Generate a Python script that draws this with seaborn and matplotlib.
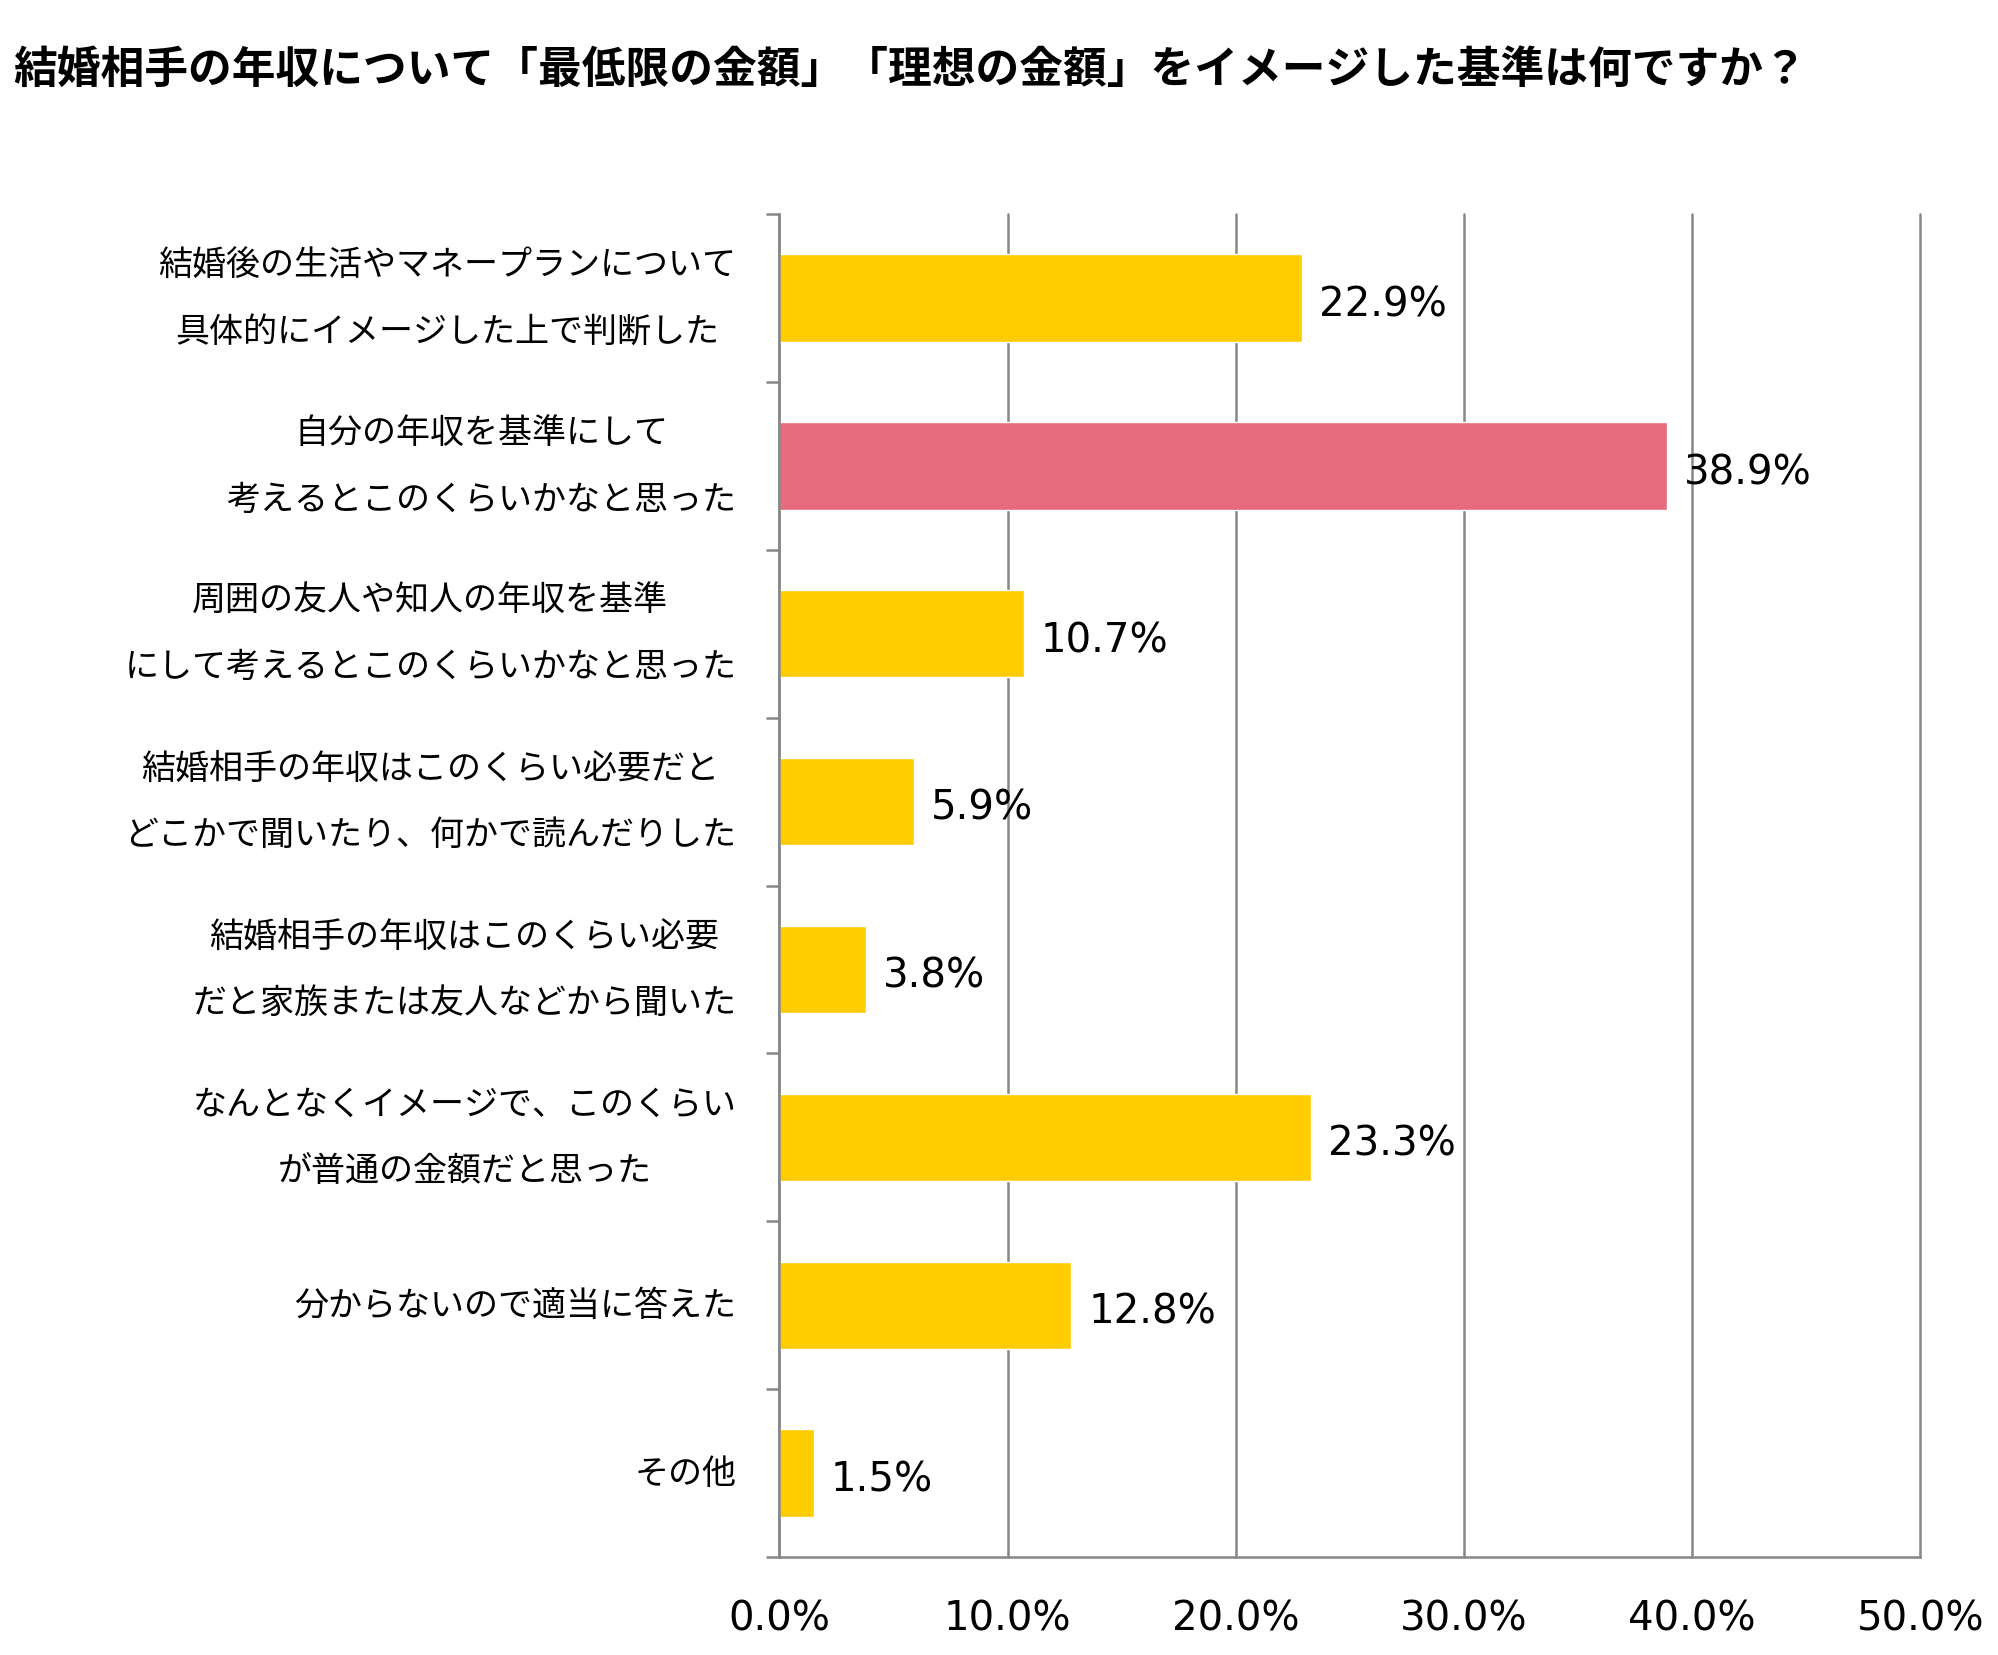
import matplotlib
matplotlib.use("Agg")
import matplotlib.pyplot as plt
import seaborn as sns
import numpy as np
import pandas as pd
from matplotlib.ticker import FixedLocator, PercentFormatter

categories = [
    "結婚後の生活やマネープランについて\n具体的にイメージした上で判断した",
    "自分の年収を基準にして\n考えるとこのくらいかなと思った",
    "周囲の友人や知人の年収を基準\nにして考えるとこのくらいかなと思った",
    "結婚相手の年収はこのくらい必要だと\nどこかで聞いたり、何かで読んだりした",
    "結婚相手の年収はこのくらい必要\nだと家族または友人などから聞いた",
    "なんとなくイメージで、このくらい\nが普通の金額だと思った",
    "分からないので適当に答えた",
    "その他",
]
values = [22.9, 38.9, 10.7, 5.9, 3.8, 23.3, 12.8, 1.5]
highlight = [False, True, False, False, False, False, False, False]
x_ticks = [0, 10, 20, 30, 40, 50]
title = "結婚相手の年収について「最低限の金額」「理想の金額」をイメージした基準は何ですか？"

YELLOW = "#FFCC00"
PINK = "#E56B7D"
GRAY = "#878787"

sns.set_theme(style="white")
plt.rcParams["font.family"] = ["Noto Sans CJK JP", "DejaVu Sans"]

df = pd.DataFrame({"category": categories, "value": values})
palette = {c: (PINK if h else YELLOW) for c, h in zip(categories, highlight)}

fig = plt.figure(figsize=(19.98, 16.56), dpi=100)
ax = fig.add_axes([0.3901, 0.0592, 0.9611 - 0.3901, 0.8701 - 0.0592])

sns.barplot(data=df, x="value", y="category", hue="category", palette=palette,
            legend=False, width=0.52, orient="h", ax=ax, saturation=1)

ax.set_xlim(0, 50)
ax.set_ylim(len(categories) - 0.5, -0.5)
ax.xaxis.set_major_locator(FixedLocator(x_ticks))
ax.xaxis.set_major_formatter(PercentFormatter(decimals=1))
ax.set_xlabel("")
ax.set_ylabel("")

# gridlines
ax.grid(axis="x", color=GRAY, linewidth=1.8)
ax.grid(axis="y", visible=False)
ax.set_axisbelow(True)
for gl in ax.get_xgridlines():
    gl.set_clip_on(False)

for s in ["top", "right"]:
    ax.spines[s].set_visible(False)
for s in ["left", "bottom"]:
    ax.spines[s].set_color(GRAY)
    ax.spines[s].set_linewidth(1.8)

ax.tick_params(axis="x", which="major", length=10, width=1.8, color=GRAY,
               direction="out", labelsize=29, pad=20, labelcolor="black")
for lab in ax.get_xticklabels():
    lab.set_fontfamily(["DejaVu Sans"])

ax.yaxis.set_minor_locator(FixedLocator(np.arange(-0.5, len(categories), 1.0)))
ax.tick_params(axis="y", which="major", length=0, pad=31, labelsize=24.5, labelcolor="black")
ax.tick_params(axis="y", which="minor", length=9.5, width=1.8, color=GRAY, direction="out", left=True)
for lab in ax.get_yticklabels():
    lab.set_multialignment("center")
    lab.set_linespacing(2.15)
    lab.set_verticalalignment("center")

for cont in ax.containers:
    anns = ax.bar_label(cont, fmt="%.1f%%", padding=12, fontsize=29,
                        fontfamily=["DejaVu Sans"], color="black")
    for a in anns:
        a.xyann = (12, -4.5)

fig.text(0.0065, 1 - 70 / 1656, title, fontsize=31.5, fontweight="bold",
         ha="left", va="center", color="black")

fig.savefig("out.png", dpi=100, facecolor="white")
